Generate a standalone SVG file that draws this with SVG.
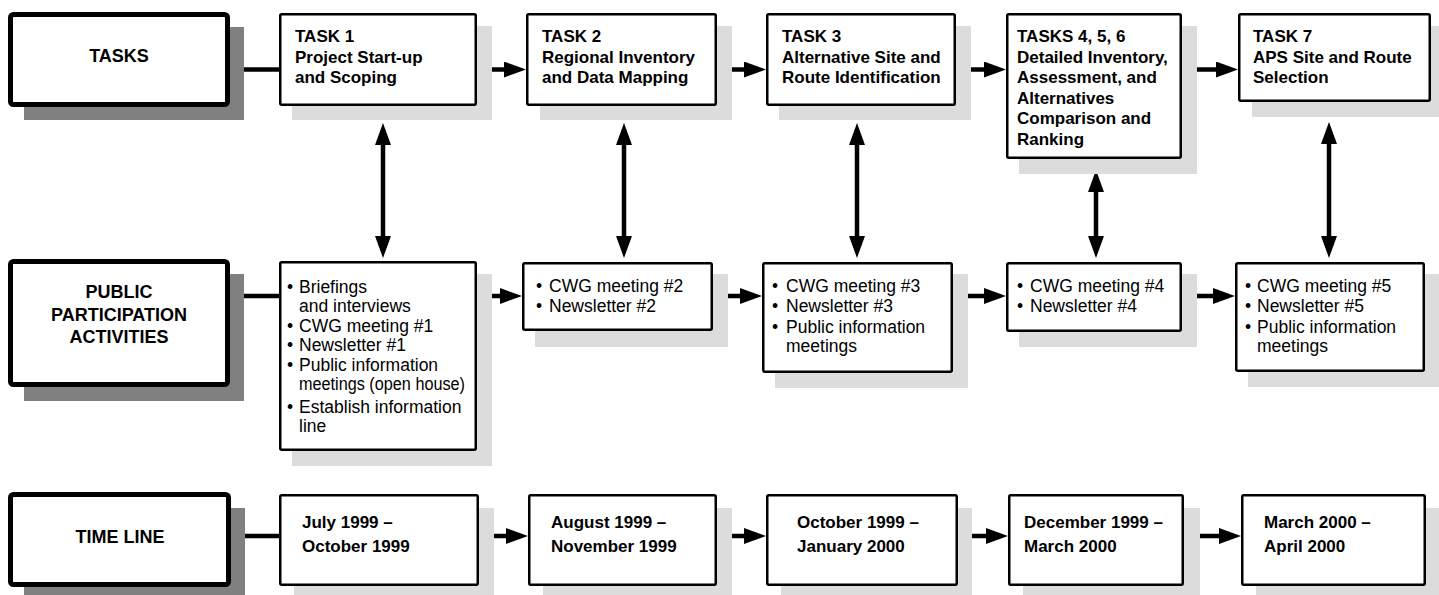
<svg xmlns="http://www.w3.org/2000/svg" width="1439" height="595" viewBox="0 0 1439 595">
<defs>
<style>
.lbl{fill:#fff;stroke:#000;stroke-width:5}
.lsh{fill:#808080}
.box{fill:#fff;stroke:#000;stroke-width:2.5}
.sh{fill:#dcdcdc}
.lt{font-family:"Liberation Sans",Arial,sans-serif;font-weight:bold;font-size:18px;fill:#000;text-anchor:middle}
.bt{font-family:"Liberation Sans",Arial,sans-serif;font-weight:bold;font-size:17px;fill:#000}
.rt{font-family:"Liberation Sans",Arial,sans-serif;font-size:17.5px;fill:#000}
.c{stroke:#000;stroke-width:4.5;fill:none}
.ca{stroke:#000;stroke-width:4.5;fill:none;marker-end:url(#ah)}
.cd{stroke:#000;stroke-width:4.5;fill:none;marker-end:url(#ah);marker-start:url(#ahs)}
</style>
<marker id="ah" markerUnits="userSpaceOnUse" markerWidth="24" markerHeight="18" refX="12" refY="8" orient="auto">
<path d="M0,0 L22,8 L0,16 z" fill="#000"/>
</marker>
<marker id="ahs" markerUnits="userSpaceOnUse" markerWidth="24" markerHeight="18" refX="12" refY="8" orient="auto-start-reverse">
<path d="M0,0 L22,8 L0,16 z" fill="#000"/>
</marker>
</defs>
<rect width="1439" height="595" fill="#fff"/>

<g id="connectors">
<line class="c" x1="230" y1="69.5" x2="280" y2="69.5"/>
<line class="ca" x1="477" y1="69.5" x2="516" y2="69.5"/>
<line class="ca" x1="717" y1="69.5" x2="756" y2="69.5"/>
<line class="ca" x1="956" y1="69.5" x2="996" y2="69.5"/>
<line class="ca" x1="1182" y1="69.5" x2="1228" y2="69.5"/>

<line class="c" x1="230" y1="296" x2="280" y2="296"/>
<line class="ca" x1="477" y1="296" x2="512" y2="296"/>
<line class="ca" x1="713" y1="296" x2="752" y2="296"/>
<line class="ca" x1="953" y1="296" x2="996" y2="296"/>
<line class="ca" x1="1182" y1="296" x2="1225" y2="296"/>

<line class="c" x1="231" y1="536" x2="280" y2="536"/>
<line class="ca" x1="479" y1="536" x2="518" y2="536"/>
<line class="ca" x1="717" y1="536" x2="756" y2="536"/>
<line class="ca" x1="958" y1="536" x2="998" y2="536"/>
<line class="ca" x1="1184" y1="536" x2="1231" y2="536"/>

<line class="cd" x1="383" y1="133" x2="383" y2="248"/>
<line class="cd" x1="624" y1="133" x2="624" y2="248"/>
<line class="cd" x1="857" y1="133" x2="857" y2="248"/>
<line class="cd" x1="1096" y1="180" x2="1096" y2="248"/>
<line class="cd" x1="1329" y1="132" x2="1329" y2="248"/>
</g>

<g id="label-tasks">
<rect class="lsh" x="24" y="27" width="220" height="93"/>
<rect class="lbl" x="10.5" y="14.5" width="217" height="90" rx="3"/>
<text class="lt" x="119" y="62">TASKS</text>
</g>
<g id="label-public">
<rect class="lsh" x="24" y="274" width="220" height="127"/>
<rect class="lbl" x="10.5" y="261.5" width="217" height="123" rx="3"/>
<text class="lt" x="119" y="298">PUBLIC</text>
<text class="lt" x="119" y="320.5">PARTICIPATION</text>
<text class="lt" x="119" y="343">ACTIVITIES</text>
</g>
<g id="label-timeline">
<rect class="lsh" x="24" y="508" width="221" height="92"/>
<rect class="lbl" x="10.5" y="494.5" width="218" height="90" rx="3"/>
<text class="lt" x="120" y="543">TIME LINE</text>
</g>

<g id="task1">
<rect class="sh" x="292" y="26" width="200" height="94"/>
<rect class="box" x="280.25" y="14.25" width="195.5" height="90.5" rx="1.5"/>
<text class="bt"><tspan x="295" y="42">TASK 1</tspan><tspan x="295" y="62.5">Project Start-up</tspan><tspan x="295" y="83">and Scoping</tspan></text>
</g>
<g id="task2">
<rect class="sh" x="540" y="26" width="192" height="94"/>
<rect class="box" x="527.25" y="14.25" width="188.5" height="90.5" rx="1.5"/>
<text class="bt"><tspan x="542" y="42">TASK 2</tspan><tspan x="542" y="62.5">Regional Inventory</tspan><tspan x="542" y="83">and Data Mapping</tspan></text>
</g>
<g id="task3">
<rect class="sh" x="779" y="26" width="192" height="94"/>
<rect class="box" x="767.25" y="14.25" width="187.5" height="90.5" rx="1.5"/>
<text class="bt"><tspan x="782" y="42">TASK 3</tspan><tspan x="782" y="62.5">Alternative Site and</tspan><tspan x="782" y="83">Route Identification</tspan></text>
</g>
<g id="task456">
<rect class="sh" x="1019" y="26" width="178" height="148"/>
<rect class="box" x="1007.25" y="14.25" width="173.5" height="143.5" rx="1.5"/>
<text class="bt"><tspan x="1017" y="42">TASKS 4, 5, 6</tspan><tspan x="1017" y="62.5">Detailed Inventory,</tspan><tspan x="1017" y="83">Assessment, and</tspan><tspan x="1017" y="103.5">Alternatives</tspan><tspan x="1017" y="124">Comparison and</tspan><tspan x="1017" y="144.5">Ranking</tspan></text>
</g>
<g id="task7">
<rect class="sh" x="1252" y="26" width="190" height="91"/>
<rect class="box" x="1239.25" y="14.25" width="190.5" height="86.5" rx="1.5"/>
<text class="bt"><tspan x="1253" y="42">TASK 7</tspan><tspan x="1253" y="62.5">APS Site and Route</tspan><tspan x="1253" y="83">Selection</tspan></text>
</g>

<g id="pp1">
<rect class="sh" x="292" y="274" width="200" height="192"/>
<rect class="box" x="280.25" y="262.25" width="195.5" height="187.5" rx="1.5"/>
<text class="rt"><tspan x="287" y="293">•</tspan><tspan x="299" y="293">Briefings</tspan><tspan x="299" y="312">and interviews</tspan><tspan x="287" y="331.5">•</tspan><tspan x="299" y="331.5">CWG meeting #1</tspan><tspan x="287" y="351">•</tspan><tspan x="299" y="351">Newsletter #1</tspan><tspan x="287" y="370.5">•</tspan><tspan x="299" y="370.5">Public information</tspan></text>
<text class="rt" x="299" y="390" textLength="166" lengthAdjust="spacingAndGlyphs">meetings (open house)</text>
<text class="rt"><tspan x="287" y="413">•</tspan><tspan x="299" y="413">Establish information</tspan><tspan x="299" y="432">line</tspan></text>
</g>
<g id="pp2">
<rect class="sh" x="535" y="274" width="193" height="73"/>
<rect class="box" x="523.25" y="263.25" width="188.5" height="66.5" rx="1.5"/>
<text class="rt"><tspan x="536" y="292">•</tspan><tspan x="549" y="292">CWG meeting #2</tspan><tspan x="536" y="312">•</tspan><tspan x="549" y="312">Newsletter #2</tspan></text>
</g>
<g id="pp3">
<rect class="sh" x="775" y="274" width="193" height="114"/>
<rect class="box" x="763.25" y="263.25" width="188.5" height="108.5" rx="1.5"/>
<text class="rt"><tspan x="772" y="292">•</tspan><tspan x="786" y="292">CWG meeting #3</tspan><tspan x="772" y="312">•</tspan><tspan x="786" y="312">Newsletter #3</tspan><tspan x="772" y="333">•</tspan><tspan x="786" y="333">Public information</tspan><tspan x="786" y="352">meetings</tspan></text>
</g>
<g id="pp4">
<rect class="sh" x="1019" y="274" width="178" height="73"/>
<rect class="box" x="1007.25" y="263.25" width="173.5" height="67.5" rx="1.5"/>
<text class="rt"><tspan x="1017" y="292">•</tspan><tspan x="1030" y="292">CWG meeting #4</tspan><tspan x="1017" y="312">•</tspan><tspan x="1030" y="312">Newsletter #4</tspan></text>
</g>
<g id="pp5">
<rect class="sh" x="1248" y="274" width="194" height="113"/>
<rect class="box" x="1236.25" y="263.25" width="187.5" height="107.5" rx="1.5"/>
<text class="rt"><tspan x="1245" y="292">•</tspan><tspan x="1257" y="292">CWG meeting #5</tspan><tspan x="1245" y="312">•</tspan><tspan x="1257" y="312">Newsletter #5</tspan><tspan x="1245" y="333">•</tspan><tspan x="1257" y="333">Public information</tspan><tspan x="1257" y="352">meetings</tspan></text>
</g>

<g id="tl1">
<rect class="sh" x="294" y="508" width="200" height="92"/>
<rect class="box" x="280.25" y="495.25" width="197.5" height="89.5" rx="1.5"/>
<text class="bt"><tspan x="302" y="528">July 1999 –</tspan><tspan x="302" y="552">October 1999</tspan></text>
</g>
<g id="tl2">
<rect class="sh" x="543" y="508" width="189" height="92"/>
<rect class="box" x="529.25" y="495.25" width="186.5" height="89.5" rx="1.5"/>
<text class="bt"><tspan x="551" y="528">August 1999 –</tspan><tspan x="551" y="552">November 1999</tspan></text>
</g>
<g id="tl3">
<rect class="sh" x="781" y="508" width="191" height="92"/>
<rect class="box" x="767.25" y="495.25" width="189.5" height="89.5" rx="1.5"/>
<text class="bt"><tspan x="797" y="528">October 1999 –</tspan><tspan x="797" y="552">January 2000</tspan></text>
</g>
<g id="tl4">
<rect class="sh" x="1023" y="508" width="177" height="92"/>
<rect class="box" x="1009.25" y="495.25" width="173.5" height="89.5" rx="1.5"/>
<text class="bt"><tspan x="1024" y="528">December 1999 –</tspan><tspan x="1024" y="552">March 2000</tspan></text>
</g>
<g id="tl5">
<rect class="sh" x="1256" y="508" width="190" height="92"/>
<rect class="box" x="1242.25" y="495.25" width="182.5" height="89.5" rx="1.5"/>
<text class="bt"><tspan x="1264" y="528">March 2000 –</tspan><tspan x="1264" y="552">April 2000</tspan></text>
</g>
</svg>
